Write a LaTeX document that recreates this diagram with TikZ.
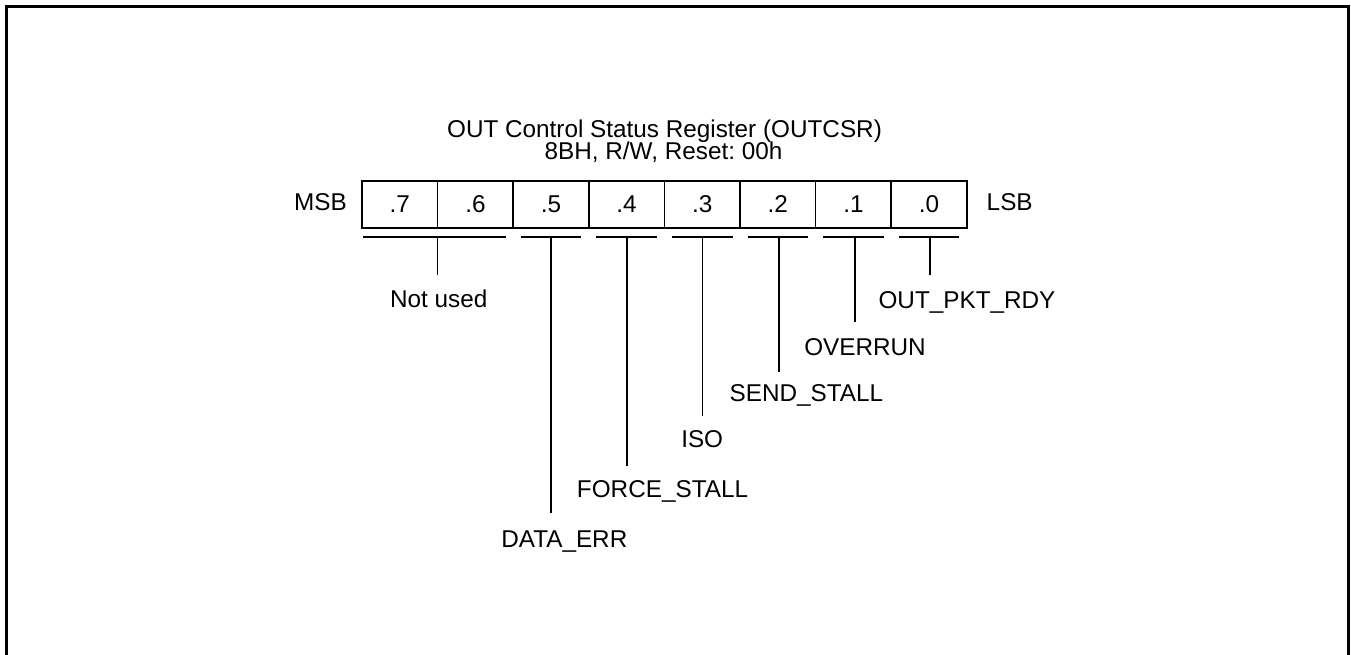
\documentclass[tikz,border=0pt]{standalone}
\usepackage{fontspec}
\setmainfont{Liberation Sans}
\frenchspacing
\begin{document}
\begin{tikzpicture}[x=1pt,y=-1pt,
  every node/.style={font=\fontsize{24.3}{29}\selectfont, inner sep=0pt},
  cell/.style={draw, line width=1.7pt, minimum width=75.6pt, minimum height=47pt, anchor=center},
  lbl/.style={anchor=base},
  wire/.style={line width=1.7pt}]
\useasboundingbox (0,0) rectangle (1351,655);
% frame
\draw[line width=3pt] (6.5,655) -- (6.5,6.5) -- (1348.5,6.5) -- (1348.5,655);
% title
\node[lbl] (t1) at (664.5,137.3) {OUT Control Status Register (OUTCSR)};
\node[lbl] (t2) at (663.5,160) {8BH, R/W, Reset: 00h};
% cells
\foreach \b [count=\i from 0] in {7,6,5,4,3,2,1,0}{
  \node[cell] (c\b) at ({362+75.6*(\i+0.5)},204.2) {.\b};
}
\node[lbl] (msb) at (320.5,211) {MSB};
\node[lbl] (lsb) at (1009.7,211) {LSB};
% underlines
\coordinate (u76a) at (363.3,236.7);
\coordinate (u76b) at (505.7,236.7);
\draw[wire] (u76a) -- (u76b);
\foreach \b [count=\i from 2] in {5,4,3,2,1,0}{
  \coordinate (ua\b) at ({362+75.6*\i+7.5},236.7);
  \coordinate (ub\b) at ({362+75.6*(\i+1)-7.5},236.7);
  \draw[wire] (ua\b) -- (ub\b);
}
% vertical leads
\coordinate (s76) at (437.6,236.7); \coordinate (e76) at (437.6,275);
\coordinate (s5) at (551.0,236.7);  \coordinate (e5) at (551.0,513.3);
\coordinate (s4) at (627.3,236.7);  \coordinate (e4) at (627.3,465.7);
\coordinate (s3) at (702.6,236.7);  \coordinate (e3) at (702.6,416);
\coordinate (s2) at (778.8,236.7);  \coordinate (e2) at (778.8,371.7);
\coordinate (s1) at (854.7,236.7);  \coordinate (e1) at (854.7,321.7);
\coordinate (s0) at (929.7,236.7);  \coordinate (e0) at (929.7,275);
\foreach \k in {76,5,4,3,2,1,0}{ \draw[wire] (s\k) -- (e\k); }
% labels
\node[lbl] (l76) at (438.7,307.5) {Not used};
\node[lbl] (l5) at (564.3,547) {DATA\_ERR};
\node[lbl] (l4) at (662.5,497.7) {FORCE\_STALL};
\node[lbl] (l3) at (702.2,447.5) {ISO};
\node[lbl] (l2) at (806.4,401.7) {SEND\_STALL};
\node[lbl] (l1) at (865,355.7) {OVERRUN};
\node[lbl] (l0) at (967,308) {OUT\_PKT\_RDY};
\end{tikzpicture}
\end{document}
